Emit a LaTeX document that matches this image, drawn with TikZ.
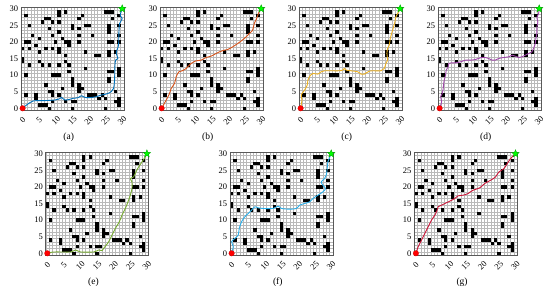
\documentclass[tikz,border=0pt]{standalone}
\usepackage{fontspec}
\setmainfont{Liberation Serif}
\usepackage{tikz}
\usetikzlibrary{positioning}
\usetikzlibrary{shapes.geometric}

\definecolor{routeA}{RGB}{0,114,189}
\definecolor{routeB}{RGB}{217,83,25}
\definecolor{routeC}{RGB}{237,177,32}
\definecolor{routeD}{RGB}{160,70,170}
\definecolor{routeE}{RGB}{119,172,48}
\definecolor{routeF}{RGB}{40,175,235}
\definecolor{routeG}{RGB}{205,20,55}

\newcommand{\obstacles}{1/28, 11/29, 11/28, 13/29, 18/28, 25/29, 26/29, 27/29, 27/27, 29/28,
  2/25, 6/26, 7/27, 8/27, 9/26, 8/24, 11/26, 15/25, 15/24, 17/27, 19/25, 20/25, 17/24, 17/22,
  26/25, 26/24, 26/23, 29/25, 3/22, 1/20, 2/20, 5/21, 9/22, 10/20, 11/23, 12/21, 13/20, 14/20,
  14/19, 17/20, 21/22, 26/20, 27/20, 29/22, 29/20, 0/18, 2/18, 4/19, 5/17, 7/18, 9/18, 11/18,
  11/17, 13/16, 13/14, 14/13, 19/17, 22/16, 23/16, 26/17, 26/16, 28/17, 0/15, 0/14, 5/14, 6/13,
  8/13, 9/10, 10/10, 11/10, 11/13, 2/13, 1/10, 14/11, 19/12, 26/11, 27/11, 29/12, 29/11, 29/10,
  26/9, 26/8, 15/9, 15/8, 15/7, 17/7, 17/6, 17/5, 7/7, 8/5, 9/5, 9/4, 11/4, 12/6, 4/4, 4/3, 1/4,
  5/1, 6/1, 7/1, 8/0, 9/2, 13/2, 15/2, 16/2, 15/0, 18/6, 20/4, 21/4, 22/4, 23/3, 24/4, 25/3,
  25/0, 28/5, 29/3, 29/2, 29/1, 28/2}

\newcommand{\mappanel}[5]{%
  \begin{scope}[shift={(#1,#2)},x=3.32pt,y=3.32pt]
    \fill[white] (-0.5,-0.5) rectangle (30.5,30.5);
    \draw[gridline,step=1,shift={(-0.5,-0.5)}] (0,0) grid (31,31);
    \foreach \i/\j in \obstacles {\fill (\i-0.5,\j-0.5) rectangle ++(1,1);}
    \draw[mapframe] (-0.5,-0.5) rectangle (30.5,30.5);
    \foreach \t in {0,5,...,30} {
      \node[ticklab,anchor=east] at (-1.3,\t) {\t};
      \node[ticklab,rotate=45] at (\t,-3.6) {\t};
    }
    \draw[route,#4] plot[smooth] coordinates {#5};
    \node[startpt] (start#3) at (0,0) {};
    \node[goalpt] (goal#3) at (30,30) {};
    \node[caption] (cap#3) at (13.9,-8.8) {(#3)};
  \end{scope}}

\begin{document}
\begin{tikzpicture}[x=1pt,y=1pt,
  gridline/.style={gray!55,line width=0.2pt},
  mapframe/.style={gray!70!black,line width=0.4pt},
  ticklab/.style={inner sep=0pt,font=\fontsize{8.5}{9}\selectfont},
  caption/.style={inner sep=0pt,font=\fontsize{9.5}{11}\selectfont},
  route/.style={line width=0.9pt,line join=round},
  startpt/.style={circle,fill=red,draw=red!80!black,line width=0.2pt,minimum size=5.6pt,inner sep=0pt},
  goalpt/.style={star,star points=5,star point ratio=2.3,fill=green,draw=green!60!black,
    line width=0.3pt,minimum size=8pt,inner sep=0pt}]
  \useasboundingbox (0,0) rectangle (550,292);
  \fill[white] (0,0) rectangle (550,292);

  \mappanel{22.6}{183.7}{a}{routeA}{(0,0) (1.2,1) (3.2,2.2) (6.2,2.3) (9.7,2.5) (11.2,2.9) (11.7,3.3)
    (12.7,2.5) (14.2,2.7) (15.2,3) (16.7,3.2) (17.7,3.8) (18.7,3.3) (20.2,3.2) (22.2,3.5) (23.7,4)
    (25.2,4.3) (26.7,5) (27.4,6) (27.7,8.5) (27.8,12.5) (28,14.5) (28.7,15) (28.2,16.5) (28.4,17.5)
    (28.9,19) (29,22.5) (29.2,25.5) (30,27) (29.4,28) (30,30)}

  \mappanel{161.6}{183.7}{b}{routeB}{(0,0) (1.4,2.5) (2.4,4.5) (2.9,6) (3.9,7.5) (4.4,9.5) (5.2,11)
    (6.2,11.3) (7.4,12) (8.9,13.5) (10.4,14.3) (11.9,14.5) (13.4,15.3) (14.9,15.7) (16.4,16.5)
    (17.4,17) (18.9,17.5) (19.9,17.7) (21.4,18.5) (22.9,19.5) (24.9,21) (26.4,22.5) (27.4,23.5)
    (27.9,25.5) (28.6,27) (29.2,28.7) (30,30)}

  \mappanel{300.6}{183.7}{c}{routeC}{(0,0) (0.4,2.5) (0.2,4) (1.2,5.5) (2,7) (2.2,8.5) (3,10) (3.7,10.5)
    (5.2,10.3) (6.2,11) (7.2,11.3) (9.7,11.3) (11.7,11.3) (12.7,11.5) (13.2,12) (13.7,11.5) (15.2,11.3)
    (17.2,11) (18.2,10.3) (19.2,10.3) (20.7,11.2) (22.2,11.3) (24.2,11.3) (25.2,12) (25.7,13.5)
    (26.2,14.5) (26,16.5) (26.2,18) (26.7,19) (27,21) (27.4,22.5) (28,24.5) (28.4,26) (28.7,27.5) (30,30)}

  \mappanel{439.6}{183.7}{d}{routeD}{(0,0) (0.6,2) (0.3,3.5) (0.8,4.5) (1.1,6) (1.3,8) (1.8,10) (2,11.5)
    (2.6,12.5) (2.8,13.5) (3.6,13.7) (4.8,13.7) (6.3,14) (7.8,14.5) (9.3,14.5) (10.8,14.7) (12.6,15.3)
    (13.8,15.3) (14.8,15) (15.8,14.5) (16.8,14.5) (17.8,15) (19.3,15.3) (20.8,15.5) (21.8,16) (22.8,15.7)
    (23.8,15.3) (24.8,15.5) (25.8,16) (26.8,16.5) (27.8,17) (28.3,18) (28.8,19.5) (29,21) (29.3,22.5)
    (29.3,24.5) (29.6,26) (29.3,27.3) (29.8,28.5) (30,30)}

  \mappanel{47.3}{38.7}{e}{routeE}{(0,0) (2,0.4) (7,0.4) (8.5,1) (10,0.4) (14,0.4) (15.5,1) (16.5,0.8)
    (17,1.5) (18.5,3.5) (19.5,5.5) (20.5,7.5) (21.7,9.5) (22.5,11.5) (23.5,13.5) (24.3,15.5) (25,17.5)
    (25.5,19.5) (25.5,21.5) (25,22.5) (26,23) (26.7,24.5) (27.5,26) (28.5,27.5) (29.3,28.7) (30,30)}

  \mappanel{231.6}{38.7}{f}{routeF}{(0,0) (0.5,2) (0,3.5) (1,4.5) (2,5.5) (2.3,7.5) (3,9.5) (4,11) (5,12)
    (6,13) (7,14) (8,13.7) (9.5,13.5) (12.5,13.5) (14,14.2) (15,13.5) (17.5,13.3) (19.5,13.5) (20.5,14.5)
    (22,15) (23.5,15.5) (24.5,16.5) (26,17.5) (27.5,18.5) (28.3,19.5) (27.5,20.5) (27,21.5) (28,22.5)
    (28.5,23.5) (28.8,25.5) (29,27.5) (30,30)}

  \mappanel{415.9}{38.7}{g}{routeG}{(0,0) (0.7,2) (1.7,4) (2.7,6) (3.7,8) (4.7,10) (5.7,11.5) (6.4,13)
    (6.7,14) (7.7,14.5) (8.7,15) (10.2,15.7) (11.7,16.5) (12.7,17.3) (14.2,17.5) (15.7,18) (17.2,19)
    (19.2,19.7) (20.7,21) (22.5,22) (24,23) (25,24.5) (26.5,25.5) (27.5,27) (28.5,28.5) (30,30)}
\end{tikzpicture}
\end{document}
